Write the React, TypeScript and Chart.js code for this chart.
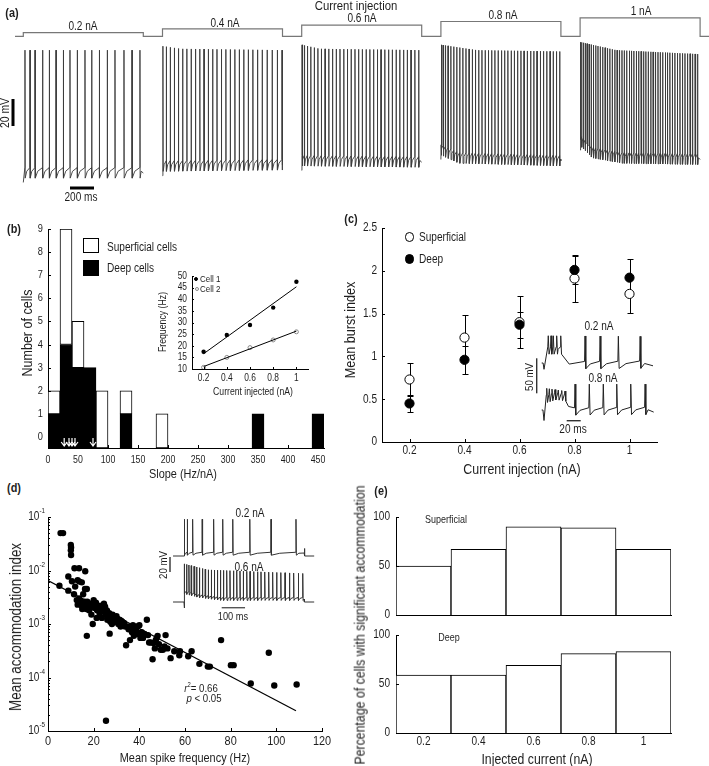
import React, { useEffect, useRef } from 'react';
import { Chart, registerables } from 'chart.js';

Chart.register(...registerables);

type Knot = [number, number];
type Pt = { x: number; y: number };
type Box = { x: number; y: number; w: number; h: number };
type Area = { l: number; t: number; r: number; b: number };

const FONT = '"Liberation Sans", Arial, Helvetica, sans-serif';
const INK = '#1e1e1e';
const NARROW = 0.84;

/* ============================ DATA ============================ */

/* (a) current steps and spike trains (ms after step onset) */
const STEP_CURRENTS_NA = [0.2, 0.4, 0.6, 0.8, 1];
const STEP_LABELS = ['0.2 nA', '0.4 nA', '0.6 nA', '0.8 nA', '1 nA'];
const STEP_MS = 1000;
const SWEEP_PERIOD_MS = 1160;
const SCALEBAR_A_MS = 200;
const SCALEBAR_A_MV = 20;

const SPIKES_A_02 = [14, 56, 98, 161, 217, 273, 334, 389, 450, 514, 570, 634, 700, 764, 839, 906, 972];
const SPIKES_A_04 = [4, 32, 65, 99, 133, 168, 203, 239, 275, 311, 346, 382, 418, 454, 491, 528, 565, 603, 640, 677, 715, 753, 792, 831, 872, 914, 957, 996];
const SPIKES_A_06 = [3, 23, 48, 76, 105, 135, 164, 195, 226, 257, 288, 319, 351, 381, 412, 444, 474, 505, 537, 568, 599, 631, 661, 692, 724, 755, 787, 817, 849, 880, 911, 943, 975];
const SPIKES_A_08 = [3, 18, 38, 60, 83, 107, 132, 157, 183, 209, 235, 262, 288, 315, 342, 369, 396, 423, 450, 477, 505, 531, 558, 586, 612, 639, 667, 693, 720, 748, 774, 801, 829, 855, 882, 910, 936, 963, 990];
const SPIKES_A_10 = [3, 13, 27, 42, 58, 75, 93, 111, 130, 149, 168, 188, 208, 228, 248, 268, 289, 308, 328, 349, 368, 388, 409, 428, 448, 469, 488, 508, 529, 548, 568, 589, 608, 628, 649, 668, 688, 709, 728, 748, 769, 790, 811, 832, 853, 874, 895, 916, 937, 958, 979];

const PEAK_A_02: Knot[] = [[0, 29], [1000, 29]];
const PEAK_A_04: Knot[] = [[0, 32], [150, 30], [1000, 29]];
const PEAK_A_06: Knot[] = [[0, 33], [150, 30], [1000, 29]];
const PEAK_A_08: Knot[] = [[0, 33], [300, 29], [1000, 28]];
const PEAK_A_10: Knot[] = [[0, 35], [300, 29], [1000, 26]];
const AHP_A_02: Knot[] = [[0, -64], [1000, -64]];
const AHP_A_04: Knot[] = [[0, -59], [1000, -58]];
const AHP_A_06: Knot[] = [[0, -55], [1000, -56]];
const AHP_A_08: Knot[] = [[0, -47], [150, -53], [1000, -55]];
const AHP_A_10: Knot[] = [[0, -40], [100, -49], [350, -53], [1000, -54]];

/* (b) slope histogram */
const SLOPE_BIN_WIDTH = 20;
const SLOPE_BIN_STARTS = [0, 20, 40, 60, 80, 100, 120, 140, 160, 180, 200, 220, 240, 260, 280, 300, 320, 340, 360, 380, 400, 420, 440];
const DEEP_CELLS = [1, 4, 3, 3, 0, 0, 1, 0, 0, 0, 0, 0, 0, 0, 0, 0, 0, 1, 0, 0, 0, 0, 1];
const SUPERFICIAL_CELLS = [1, 5, 2, 0, 2, 0, 1, 0, 0, 1, 0, 0, 0, 0, 0, 0, 0, 0, 0, 0, 0, 0, 0];
const SLOPE_TICKS = [0, 50, 100, 150, 200, 250, 300, 350, 400, 450];
const CELL_COUNT_TICKS = [0, 1, 2, 3, 4, 5, 6, 7, 8, 9];
const EXAMPLE_SLOPES = [27, 35, 40, 45, 75];

/* (b) inset */
const INSET_CURRENT_NA = [0.2, 0.4, 0.6, 0.8, 1];
const CELL1_HZ = [17.4, 24.6, 28.9, 36.4, 47.5];
const CELL2_HZ = [10.7, 15.0, 19.2, 22.5, 26.0];
const INSET_HZ_TICKS = [10, 15, 20, 25, 30, 35, 40, 45, 50];

/* (c) burst index */
const BURST_CURRENT_NA = [0.2, 0.4, 0.6, 0.8, 1];
const SUP_BURST = [0.73, 1.22, 1.4, 1.91, 1.73];
const SUP_BURST_ERR = [0.19, 0.26, 0.3, 0.28, 0.22];
const DEEP_BURST = [0.45, 0.96, 1.37, 2.01, 1.92];
const DEEP_BURST_ERR = [0.1, 0.16, 0.15, 0.16, 0.22];
const BURST_TICKS = [0, 0.5, 1, 1.5, 2, 2.5];
const CURRENT_TICKS = [0.2, 0.4, 0.6, 0.8, 1];

/* (c) inset traces (ms, mV) */
const CI_SPIKES_02 = [9.4, 13.3, 16.6, 21.4, 27.2, 61.9, 83.4, 109.5, 140.6];
const CI_PEAK_02: Knot[] = [[0, -26], [160, -27]];
const CI_AHP_02: Knot[] = [[0, -50], [28, -50], [34, -71], [160, -70]];
const CI_LEAD_02: Knot[] = [[0, -65], [2, -65], [3.3, -74]];
const CI_TAIL_02: Knot[] = [[159, -69]];
const CI_SPIKES_08 = [7.2, 10.9, 14.7, 19.0, 23.7, 28.6, 33.3, 47.6, 68.0, 88.0, 107.2, 127.2, 147.7];
const CI_PEAK_08: Knot[] = [[0, -33], [34, -38], [45, -28], [160, -28]];
const CI_AHP_08: Knot[] = [[0, -54], [20, -48], [34, -50], [40, -70], [160, -69]];
const CI_LEAD_08: Knot[] = [[0, -65], [1.8, -65], [3.3, -80]];
const CI_TAIL_08: Knot[] = [[160, -68]];
const CI_SCALE_MV = 50;
const CI_SCALE_MS = 20;

/* (d) accommodation vs frequency */
const ACC_FREQ_HZ = [5.5, 6.6, 10.0, 10.1, 10.0, 10.1, 11.6, 13.6, 16.3, 8.9, 10.5, 13.0, 13.8, 14.8, 11.9, 16.2, 17.0, 15.4, 5.0, 8.9, 11.4,
  12.6, 13.2, 13.6, 14.0, 14.3, 14.8, 15.2, 15.5, 15.9, 16.3, 16.8, 17.2, 17.6, 18.0, 18.6, 19.0, 19.6, 17.0, 20.0, 20.5, 21.0, 21.5, 22.0,
  22.6, 23.0, 23.6, 24.0, 24.5, 25.0, 25.3, 25.8, 26.2, 26.8, 27.0, 27.3, 27.8, 28.3, 28.8, 29.3, 29.8, 30.3, 30.8, 31.3, 31.8, 32.5, 33.3,
  34.2, 34.8, 35.3, 35.9, 36.3, 36.8, 37.2, 37.6, 38.2, 38.6, 39.0, 39.5, 40.0, 40.5, 41.0, 41.6, 42.2, 43.3, 43.8, 44.3, 45.0, 45.8, 46.2,
  46.8, 47.2, 47.6, 48.0, 48.6, 49.4, 50.3, 51.0, 51.5, 52.3, 53.7, 55.3, 57.5, 57.8, 61.4, 62.9, 66.3, 70.0, 70.9, 75.8, 80.1, 81.3, 88.8,
  96.7, 99.1, 108.9, 25.4, 13.0, 15.0, 16.0, 18.4, 19.4, 21.3, 23.4, 26.0, 28.0, 30.0, 32.0, 33.8];
const ACC_INDEX = [0.05, 0.05, 0.03, 0.027, 0.024, 0.0195, 0.011, 0.011, 0.0097, 0.0077, 0.0063, 0.0066, 0.0062, 0.006, 0.005, 0.0045, 0.0045, 0.0036, 0.0052, 0.0042, 0.0036,
  0.0028, 0.0026, 0.003, 0.0024, 0.0027, 0.0022, 0.0025, 0.002, 0.0023, 0.0021, 0.0019, 0.0026, 0.0022, 0.0018, 0.0024, 0.0015, 0.001, 0.0006, 0.0028, 0.002, 0.0025, 0.0018, 0.0022,
  0.0016, 0.0019, 0.0013, 0.0017, 0.0024, 0.0021, 0.0015, 0.0018, 0.0014, 0.0016, 0.00066, 0.0011, 0.0013, 0.0015, 0.0012, 0.0013, 0.0011, 0.00125, 0.001, 0.0012, 0.0009, 0.0011, 0.00105,
  0.0004, 0.0009, 0.0008, 0.0005, 0.00085, 0.0007, 0.00095, 0.0006, 0.0008, 0.00075, 0.0009, 0.00065, 0.00095, 0.00055, 0.0007, 0.00055, 0.00065, 0.0012, 0.00062, 0.00045, 0.00045, 0.00022, 0.00044,
  0.00035, 0.0005, 0.00055, 0.0006, 0.00042, 0.00033, 0.00033, 0.00038, 0.00062, 0.00035, 0.00023, 0.00031, 0.00026, 0.00031, 0.00025, 0.00031, 0.00018, 0.00016, 0.00016, 0.0005, 0.00017, 0.00017, 0.000077,
  0.00029, 0.000071, 0.000074, 0.0000155, 0.0023, 0.0019, 0.0026, 0.002, 0.0022, 0.0013, 0.0022, 0.0012, 0.001, 0.0014, 0.00115, 0.0009];
const ACC_FIT_HZ = [0, 108.6];
const ACC_FIT_INDEX = [0.0065, 0.000024];
const FREQ_TICKS = [0, 20, 40, 60, 80, 100, 120];
const ACC_DECADES = [1e-5, 1e-4, 1e-3, 1e-2, 1e-1];

/* (d) inset traces */
const DI_SPIKES_02 = [2, 14, 37, 78, 127, 166, 209, 282, 373, 480];
const DI_PEAK_02: Knot[] = [[0, -16], [515, -16]];
const DI_AHP_02: Knot[] = [[0, -63], [515, -63]];
const DI_LEAD_02: Knot[] = [[-47, -65], [0, -65]];
const DI_TAIL_02: Knot[] = [[515, -61], [516, -55], [518, -65], [558, -65]];
const DI_SPIKES_06 = [2, 11, 21, 31, 43, 54, 66, 79, 91, 104, 117, 130, 143, 156, 169, 183, 197, 212, 226, 240, 254, 269, 283, 299, 315, 330, 346, 363, 380, 397, 415, 433, 452, 470, 490, 509];
const DI_PEAK_06: Knot[] = [[0, -14], [100, -22], [515, -27]];
const DI_AHP_06: Knot[] = [[0, -53], [60, -58], [160, -62], [515, -62]];
const DI_LEAD_06: Knot[] = [[-47, -65], [0, -65], [0.8, -73]];
const DI_TAIL_06: Knot[] = [[515, -61], [516, -65], [558, -65]];
const DI_SCALE_MV = 20;
const DI_SCALE_MS = 100;

/* (e) percentage with significant accommodation */
const E_CURRENT_LABELS = ['0.2', '0.4', '0.6', '0.8', '1'];
const PCT_SUPERFICIAL = [50, 67, 90, 89, 67];
const PCT_DEEP = [59, 59, 69, 81, 83];
const PCT_TICKS = [0, 50, 100];

/* ============================ HELPERS ============================ */

function knotAt(k: Knot[], t: number): number {
  if (t <= k[0][0]) return k[0][1];
  for (let i = 1; i < k.length; i++) {
    if (t <= k[i][0]) {
      const [t0, v0] = k[i - 1];
      const [t1, v1] = k[i];
      return v0 + ((v1 - v0) * (t - t0)) / (t1 - t0);
    }
  }
  return k[k.length - 1][1];
}

interface TraceSpec { spikes: number[]; peak: Knot[]; ahp: Knot[]; ramp: number; hw: number; lead: Knot[]; tail: Knot[] }

function buildTrace(s: TraceSpec, shift = 0): Pt[] {
  const out: Pt[] = [];
  const add = (t: number, v: number) => out.push({ x: t + shift, y: v });
  s.lead.forEach(([t, v]) => add(t, v));
  const endT = s.tail.length ? s.tail[0][0] : s.spikes[s.spikes.length - 1] + 10;
  s.spikes.forEach((t, i) => {
    const a = knotAt(s.ahp, t);
    add(t - s.hw, a + s.ramp);
    add(t, knotAt(s.peak, t));
    add(t + 1.6 * s.hw, a - 0.3 * s.ramp);
    const nxt = i + 1 < s.spikes.length ? s.spikes[i + 1] : endT;
    if (nxt - t > 8 * s.hw) {
      const m = t + 0.35 * (nxt - t);
      add(m, knotAt(s.ahp, m) + 0.55 * s.ramp);
    }
  });
  s.tail.forEach(([t, v]) => add(t, v));
  return out;
}

function fitLine(xs: number[], ys: number[]): Pt[] {
  const n = xs.length;
  const mx = xs.reduce((a, b) => a + b, 0) / n;
  const my = ys.reduce((a, b) => a + b, 0) / n;
  let sxy = 0, sxx = 0;
  xs.forEach((x, i) => { sxy += (x - mx) * (ys[i] - my); sxx += (x - mx) * (x - mx); });
  const k = sxy / sxx;
  return [xs[0], xs[n - 1]].map((x) => ({ x, y: my + k * (x - mx) }));
}

const xLin = (l: number, r: number, refPx: number, refVal: number, ppu: number) => ({ min: refVal + (l - refPx) / ppu, max: refVal + (r - refPx) / ppu });
const yLin = (t: number, b: number, refPy: number, refVal: number, ppu: number) => ({ min: refVal - (b - refPy) / ppu, max: refVal + (refPy - t) / ppu });

function frame(box: Box, area: Area, yShown: boolean, xShown: boolean) {
  return {
    responsive: false,
    animation: false as const,
    devicePixelRatio: 1,
    events: [] as any[],
    layout: {
      padding: {
        left: yShown ? 0 : area.l - box.x,
        top: area.t - box.y,
        right: box.x + box.w - area.r,
        bottom: xShown ? 0 : box.y + box.h - area.b,
      },
    },
  };
}

function visAxis(o: { horizontal: boolean; fit: number; min?: number; max?: number; ticks?: number[]; type?: string; offset?: boolean }) {
  return {
    type: o.type ?? 'linear',
    min: o.min,
    max: o.max,
    offset: o.offset ?? false,
    grid: { display: false, drawTicks: false },
    border: { display: true, color: '#000', width: 1 },
    ticks: { display: false, autoSkip: false },
    afterBuildTicks: o.ticks ? (s: any) => { s.ticks = (o.ticks as number[]).map((v) => ({ value: v })); } : undefined,
    afterFit: (s: any) => { if (o.horizontal) s.height = o.fit; else s.width = o.fit; },
  };
}

const hidden = (r: { min: number; max: number }) => ({ type: 'linear', display: false, min: r.min, max: r.max });

/* ---------- plugins ---------- */
const scaleBarPlugin = {
  id: 'scaleBars',
  afterDatasetsDraw(chart: any, _a: any, o: any) {
    const ctx = chart.ctx;
    (o.bars || []).forEach((b: any) => {
      const s = chart.scales[b.scale];
      const len = Math.abs(s.getPixelForValue(b.value) - s.getPixelForValue(0));
      ctx.save();
      ctx.fillStyle = b.color || '#000';
      if (s.isHorizontal()) ctx.fillRect(b.x, b.y - b.w / 2, len, b.w);
      else ctx.fillRect(b.x - b.w / 2, b.y - len, b.w, len);
      ctx.restore();
    });
  },
};

const inTicksPlugin = {
  id: 'inTicks',
  afterDatasetsDraw(chart: any, _a: any, o: any) {
    const ctx = chart.ctx;
    const A = chart.chartArea;
    ctx.save();
    ctx.strokeStyle = '#000';
    ctx.lineWidth = 1;
    ctx.beginPath();
    (o.axes || []).forEach((id: string) => {
      const s = chart.scales[id];
      s.ticks.forEach((t: any) => {
        const p = Math.round(s.getPixelForValue(t.value)) + 0.5;
        if (s.isHorizontal()) { ctx.moveTo(p, A.bottom); ctx.lineTo(p, A.bottom - o.len); }
        else { ctx.moveTo(A.left, p); ctx.lineTo(A.left + o.len, p); }
      });
    });
    if (o.minorLog) {
      const s = chart.scales[o.minorLog];
      s.ticks.forEach((t: any) => {
        for (let k = 2; k <= 9; k++) {
          const v = t.value * k;
          if (v > s.max) continue;
          const p = Math.round(s.getPixelForValue(v)) + 0.5;
          ctx.moveTo(A.left, p);
          ctx.lineTo(A.left + 2, p);
        }
      });
    }
    ctx.stroke();
    ctx.restore();
  },
};

/* tick labels drawn with the figure's narrow lettering */
const tickTextPlugin = {
  id: 'tickText',
  afterDraw(chart: any, _a: any, o: any) {
    const ctx = chart.ctx;
    const A = chart.chartArea;
    (o.axes || []).forEach((ax: any) => {
      const s = chart.scales[ax.id];
      s.ticks.forEach((t: any, i: number) => {
        const p = s.getPixelForValue(t.value);
        ctx.save();
        ctx.fillStyle = INK;
        ctx.textBaseline = 'middle';
        if (s.isHorizontal()) { ctx.translate(p, A.bottom + ax.pad); ctx.textAlign = 'center'; }
        else { ctx.translate(A.left - ax.pad, p); ctx.textAlign = 'right'; }
        ctx.scale(ax.sx ?? NARROW, 1);
        if (ax.log) {
          const ex = String(Math.round(Math.log10(t.value)));
          ctx.font = `${ax.sup}px ${FONT}`;
          const ew = ctx.measureText(ex).width;
          ctx.fillText(ex, 0, -ax.size * 0.5);
          ctx.font = `${ax.size}px ${FONT}`;
          ctx.fillText('10', -ew, 0);
        } else {
          ctx.font = `${ax.size}px ${FONT}`;
          const txt = ax.labels ? ax.labels[i] : String(t.value);
          ctx.fillText(txt, 0, 0);
        }
        ctx.restore();
      });
    });
  },
};

const errorBarPlugin = {
  id: 'errorBars',
  beforeDatasetsDraw(chart: any) {
    const ctx = chart.ctx;
    const ys = chart.scales.y;
    chart.data.datasets.forEach((ds: any, i: number) => {
      if (!ds.errors) return;
      const meta = chart.getDatasetMeta(i);
      meta.data.forEach((el: any, j: number) => {
        const v = ds.data[j].y;
        const e = ds.errors[j];
        const top = Math.round(ys.getPixelForValue(v + e)) + 0.5;
        const bot = Math.round(ys.getPixelForValue(v - e)) + 0.5;
        const x = Math.round(el.x) + 0.5;
        ctx.save();
        ctx.strokeStyle = '#000';
        ctx.lineWidth = 1;
        ctx.beginPath();
        ctx.moveTo(x, top); ctx.lineTo(x, bot);
        ctx.moveTo(x - 3, top); ctx.lineTo(x + 3, top);
        ctx.moveTo(x - 3, bot); ctx.lineTo(x + 3, bot);
        ctx.stroke();
        ctx.restore();
      });
    });
  },
};

const arrowPlugin = {
  id: 'slopeArrows',
  afterDatasetsDraw(chart: any, _a: any, o: any) {
    const ctx = chart.ctx;
    const xs = chart.scales.x;
    const A = chart.chartArea;
    ctx.save();
    ctx.strokeStyle = '#fff';
    ctx.lineWidth = 1.2;
    (o.values || []).forEach((v: number) => {
      const x = xs.getPixelForValue(v);
      const yb = A.bottom - 2;
      const yt = A.bottom - 10;
      ctx.beginPath();
      ctx.moveTo(x, yt); ctx.lineTo(x, yb);
      ctx.moveTo(x - 3, yb - 4); ctx.lineTo(x, yb); ctx.lineTo(x + 3, yb - 4);
      ctx.stroke();
    });
    ctx.restore();
  },
};

const noLegend = { legend: { display: false }, tooltip: { enabled: false } };

/* ============================ CHART SPECS ============================ */

const BOX_A: Box = { x: 0, y: 0, w: 709, h: 200 };
const AREA_A: Area = { l: 0, t: 0, r: 709, b: 200 };
const BOX_B: Box = { x: 0, y: 212, w: 340, h: 262 };
const AREA_B: Area = { l: 48, t: 229, r: 324, b: 448 };
const BOX_BI: Box = { x: 140, y: 266, w: 185, h: 120 };
const AREA_BI: Area = { l: 192, t: 276, r: 308, b: 369 };
const BOX_C: Box = { x: 355, y: 212, w: 354, h: 250 };
const AREA_C: Area = { l: 382, t: 228, r: 657, b: 442 };
const BOX_CI: Box = { x: 525, y: 318, w: 135, h: 118 };
const AREA_CI: Area = { l: 525, t: 318, r: 660, b: 436 };
const BOX_D: Box = { x: 0, y: 505, w: 340, h: 250 };
const AREA_D: Area = { l: 48, t: 517, r: 322, b: 731 };
const BOX_DI: Box = { x: 160, y: 503, w: 160, h: 122 };
const AREA_DI: Area = { l: 160, t: 503, r: 320, b: 625 };
const BOX_E1: Box = { x: 365, y: 505, w: 344, h: 115 };
const AREA_E1: Area = { l: 396, t: 517, r: 671, b: 615 };
const BOX_E2: Box = { x: 365, y: 622, w: 344, h: 130 };
const AREA_E2: Area = { l: 396, t: 635, r: 671, b: 733 };

function makeA() {
  const specs: TraceSpec[] = [
    [SPIKES_A_02, PEAK_A_02, AHP_A_02],
    [SPIKES_A_04, PEAK_A_04, AHP_A_04],
    [SPIKES_A_06, PEAK_A_06, AHP_A_06],
    [SPIKES_A_08, PEAK_A_08, AHP_A_08],
    [SPIKES_A_10, PEAK_A_10, AHP_A_10],
  ].map(([sp, pk, ah]: any) => ({
    spikes: sp, peak: pk, ahp: ah, ramp: 6, hw: 1,
    lead: [[0, knotAt(ah, 0) - 5]] as Knot[],
    tail: [[STEP_MS, knotAt(ah, STEP_MS) + 2]] as Knot[],
  }));
  const xr = xLin(AREA_A.l, AREA_A.r, 23.3, 0, 0.12);
  const cur: Pt[] = [{ x: -69, y: 0 }];
  STEP_CURRENTS_NA.forEach((I, i) => {
    const s = i * SWEEP_PERIOD_MS;
    cur.push({ x: s, y: 0 }, { x: s, y: I }, { x: s + STEP_MS, y: I }, { x: s + STEP_MS, y: 0 });
  });
  cur.push({ x: xr.max, y: 0 });
  return {
    type: 'line',
    data: {
      datasets: [
        { data: cur, yAxisID: 'yI', borderColor: '#777', borderWidth: 1.2 },
        ...specs.map((sp, i) => ({ data: buildTrace(sp, i * SWEEP_PERIOD_MS), yAxisID: 'yV', borderColor: '#3a3a3a', borderWidth: 0.9 })),
      ],
    },
    options: {
      ...frame(BOX_A, AREA_A, false, false),
      elements: { point: { radius: 0 }, line: { tension: 0 } },
      scales: {
        x: hidden(xr),
        yV: hidden(yLin(AREA_A.t, AREA_A.b, 89.3, 0, 1.35)),
        yI: hidden(yLin(AREA_A.t, AREA_A.b, 36.3, 0, 18.5)),
      },
      plugins: {
        ...noLegend,
        scaleBars: {
          bars: [
            { scale: 'x', value: SCALEBAR_A_MS, x: 70, y: 188, w: 3 },
            { scale: 'yV', value: SCALEBAR_A_MV, x: 13, y: 126, w: 3 },
          ],
        },
      },
    },
    plugins: [scaleBarPlugin],
  };
}

function makeB() {
  const base = -0.48;
  const xmin = 0, xmax = 460;
  const binPx = ((AREA_B.r - AREA_B.l) / (xmax - xmin)) * SLOPE_BIN_WIDTH;
  const deep = SLOPE_BIN_STARTS.map((s, i) => ({ x: s + SLOPE_BIN_WIDTH / 2, y: DEEP_CELLS[i] ? [base, DEEP_CELLS[i]] : null }));
  const sup = SLOPE_BIN_STARTS.map((s, i) => ({
    x: s + SLOPE_BIN_WIDTH / 2,
    y: SUPERFICIAL_CELLS[i] ? [DEEP_CELLS[i] ? DEEP_CELLS[i] : base, DEEP_CELLS[i] + SUPERFICIAL_CELLS[i]] : null,
  }));
  const barStyle = { borderColor: '#000', borderWidth: 1, borderSkipped: false, grouped: false, barThickness: binPx, categoryPercentage: 1, barPercentage: 1 };
  return {
    type: 'bar',
    data: {
      datasets: [
        { data: sup, backgroundColor: '#fff', ...barStyle },
        { data: deep, backgroundColor: '#000', ...barStyle },
      ],
    },
    options: {
      ...frame(BOX_B, AREA_B, true, true),
      scales: {
        x: visAxis({ horizontal: true, fit: BOX_B.y + BOX_B.h - AREA_B.b, min: xmin, max: xmax, ticks: SLOPE_TICKS }),
        y: visAxis({ horizontal: false, fit: AREA_B.l - BOX_B.x, min: base, max: 9, ticks: CELL_COUNT_TICKS }),
      },
      plugins: {
        ...noLegend,
        slopeArrows: { values: EXAMPLE_SLOPES },
        inTicks: { axes: ['x', 'y'], len: 3 },
        tickText: { axes: [{ id: 'x', size: 11, pad: 11.5, sx: 0.8 }, { id: 'y', size: 11, pad: 5, sx: 0.84 }] },
      },
    },
    plugins: [arrowPlugin, inTicksPlugin, tickTextPlugin],
  };
}

function makeBI() {
  const p1 = INSET_CURRENT_NA.map((x, i) => ({ x, y: CELL1_HZ[i] }));
  const p2 = INSET_CURRENT_NA.map((x, i) => ({ x, y: CELL2_HZ[i] }));
  const line = { showLine: true, borderColor: '#000', borderWidth: 1, pointRadius: 0 };
  return {
    type: 'scatter',
    data: {
      datasets: [
        { data: fitLine(INSET_CURRENT_NA, CELL1_HZ), ...line },
        { data: fitLine(INSET_CURRENT_NA, CELL2_HZ), ...line },
        { data: p1, pointRadius: 2.2, backgroundColor: '#000', borderColor: '#000', borderWidth: 0 },
        { data: p2, pointRadius: 2, backgroundColor: '#fff', borderColor: '#888', borderWidth: 1 },
      ],
    },
    options: {
      ...frame(BOX_BI, AREA_BI, true, true),
      scales: {
        x: visAxis({ horizontal: true, fit: BOX_BI.y + BOX_BI.h - AREA_BI.b, min: 0.1, max: 1.1, ticks: CURRENT_TICKS }),
        y: visAxis({ horizontal: false, fit: AREA_BI.l - BOX_BI.x, min: 10, max: 50, ticks: INSET_HZ_TICKS }),
      },
      plugins: {
        ...noLegend,
        inTicks: { axes: ['x', 'y'], len: 2 },
        tickText: { axes: [{ id: 'x', size: 10, pad: 9 }, { id: 'y', size: 10, pad: 5 }] },
      },
    },
    plugins: [inTicksPlugin, tickTextPlugin],
  };
}

function makeC() {
  const sup = BURST_CURRENT_NA.map((x, i) => ({ x, y: SUP_BURST[i] }));
  const deep = BURST_CURRENT_NA.map((x, i) => ({ x, y: DEEP_BURST[i] }));
  return {
    type: 'scatter',
    data: {
      datasets: [
        { data: deep, errors: DEEP_BURST_ERR, pointRadius: 4.6, backgroundColor: '#000', borderColor: '#000', borderWidth: 1 },
        { data: sup, errors: SUP_BURST_ERR, pointRadius: 4.6, backgroundColor: '#fff', borderColor: '#000', borderWidth: 1 },
      ],
    },
    options: {
      ...frame(BOX_C, AREA_C, true, true),
      scales: {
        x: visAxis({ horizontal: true, fit: BOX_C.y + BOX_C.h - AREA_C.b, min: 0.1, max: 1.1, ticks: CURRENT_TICKS }),
        y: visAxis({ horizontal: false, fit: AREA_C.l - BOX_C.x, min: 0, max: 2.5, ticks: BURST_TICKS }),
      },
      plugins: {
        ...noLegend,
        inTicks: { axes: ['x', 'y'], len: 3 },
        tickText: { axes: [{ id: 'x', size: 12, pad: 9 }, { id: 'y', size: 12, pad: 5 }] },
      },
    },
    plugins: [errorBarPlugin, inTicksPlugin, tickTextPlugin],
  };
}

function makeCI() {
  const t02: TraceSpec = { spikes: CI_SPIKES_02, peak: CI_PEAK_02, ahp: CI_AHP_02, ramp: 8, hw: 0.7, lead: CI_LEAD_02, tail: CI_TAIL_02 };
  const t08: TraceSpec = { spikes: CI_SPIKES_08, peak: CI_PEAK_08, ahp: CI_AHP_08, ramp: 8, hw: 0.7, lead: CI_LEAD_08, tail: CI_TAIL_08 };
  return {
    type: 'line',
    data: {
      datasets: [
        { data: buildTrace(t02), yAxisID: 'yA', borderColor: '#222', borderWidth: 1 },
        { data: buildTrace(t08), yAxisID: 'yB', borderColor: '#222', borderWidth: 1 },
      ],
    },
    options: {
      ...frame(BOX_CI, AREA_CI, false, false),
      elements: { point: { radius: 0 }, line: { tension: 0 } },
      scales: {
        x: hidden(xLin(AREA_CI.l, AREA_CI.r, 541.7, 0, 0.7)),
        yA: hidden(yLin(AREA_CI.t, AREA_CI.b, 363, -65, 0.7)),
        yB: hidden(yLin(AREA_CI.t, AREA_CI.b, 410, -65, 0.7)),
      },
      plugins: {
        ...noLegend,
        scaleBars: {
          bars: [
            { scale: 'yA', value: CI_SCALE_MV, x: 11.7, y: 75.3, w: 1.4, color: '#333' },
            { scale: 'x', value: CI_SCALE_MS, x: 41.7, y: 102.7, w: 1.4, color: '#333' },
          ],
        },
      },
    },
    plugins: [scaleBarPlugin],
  };
}

function makeD() {
  const pts = ACC_FREQ_HZ.map((x, i) => ({ x, y: ACC_INDEX[i] }));
  const fit = ACC_FIT_HZ.map((x, i) => ({ x, y: ACC_FIT_INDEX[i] }));
  return {
    type: 'scatter',
    data: {
      datasets: [
        { data: fit, showLine: true, borderColor: '#000', borderWidth: 1.2, pointRadius: 0 },
        { data: pts, pointRadius: 3.2, backgroundColor: '#000', borderColor: '#000', borderWidth: 0 },
      ],
    },
    options: {
      ...frame(BOX_D, AREA_D, true, true),
      scales: {
        x: visAxis({ horizontal: true, fit: BOX_D.y + BOX_D.h - AREA_D.b, min: 0, max: 120, ticks: FREQ_TICKS }),
        y: { ...visAxis({ horizontal: false, fit: AREA_D.l - BOX_D.x, min: 1e-5, max: 1e-1, ticks: ACC_DECADES }), type: 'logarithmic' },
      },
      plugins: {
        ...noLegend,
        inTicks: { axes: ['x', 'y'], len: 3, minorLog: 'y' },
        tickText: { axes: [{ id: 'x', size: 13, pad: 10 }, { id: 'y', size: 12, sup: 7.5, pad: 3, log: true }] },
      },
    },
    plugins: [inTicksPlugin, tickTextPlugin],
  };
}

function makeDI() {
  const t02: TraceSpec = { spikes: DI_SPIKES_02, peak: DI_PEAK_02, ahp: DI_AHP_02, ramp: 3, hw: 1, lead: DI_LEAD_02, tail: DI_TAIL_02 };
  const t06: TraceSpec = { spikes: DI_SPIKES_06, peak: DI_PEAK_06, ahp: DI_AHP_06, ramp: 3, hw: 1, lead: DI_LEAD_06, tail: DI_TAIL_06 };
  return {
    type: 'line',
    data: {
      datasets: [
        { data: buildTrace(t02), yAxisID: 'yA', borderColor: '#333', borderWidth: 1 },
        { data: buildTrace(t06), yAxisID: 'yB', borderColor: '#333', borderWidth: 1 },
      ],
    },
    options: {
      ...frame(BOX_DI, AREA_DI, false, false),
      elements: { point: { radius: 0 }, line: { tension: 0 } },
      scales: {
        x: hidden(xLin(AREA_DI.l, AREA_DI.r, 184, 0, 0.2333)),
        yA: hidden(yLin(AREA_DI.t, AREA_DI.b, 556, -65, 0.75)),
        yB: hidden(yLin(AREA_DI.t, AREA_DI.b, 602, -65, 0.75)),
      },
      plugins: {
        ...noLegend,
        scaleBars: {
          bars: [
            { scale: 'yA', value: DI_SCALE_MV, x: 10, y: 69, w: 1.4, color: '#333' },
            { scale: 'x', value: DI_SCALE_MS, x: 61.7, y: 104.7, w: 1.4, color: '#555' },
          ],
        },
      },
    },
    plugins: [scaleBarPlugin],
  };
}

function makeE(values: number[], box: Box, area: Area, showLabels: boolean) {
  const axes: any[] = [{ id: 'y', size: 12, pad: 6 }];
  if (showLabels) axes.push({ id: 'x', size: 12, pad: 9, labels: E_CURRENT_LABELS });
  return {
    type: 'bar',
    data: {
      labels: E_CURRENT_LABELS,
      datasets: [{ data: values, backgroundColor: '#fff', borderColor: '#000', borderWidth: 1, borderSkipped: 'start', categoryPercentage: 1, barPercentage: 1 }],
    },
    options: {
      ...frame(box, area, true, true),
      scales: {
        x: visAxis({ type: 'category', offset: true, horizontal: true, fit: box.y + box.h - area.b }),
        y: visAxis({ horizontal: false, fit: area.l - box.x, min: 0, max: 100, ticks: PCT_TICKS }),
      },
      plugins: { ...noLegend, inTicks: { axes: ['y'], len: 3 }, tickText: { axes } },
    },
    plugins: [inTicksPlugin, tickTextPlugin],
  };
}

const SPECS: { key: string; box: Box; make: () => any }[] = [
  { key: 'a', box: BOX_A, make: makeA },
  { key: 'b', box: BOX_B, make: makeB },
  { key: 'bi', box: BOX_BI, make: makeBI },
  { key: 'c', box: BOX_C, make: makeC },
  { key: 'ci', box: BOX_CI, make: makeCI },
  { key: 'd', box: BOX_D, make: makeD },
  { key: 'di', box: BOX_DI, make: makeDI },
  { key: 'e1', box: BOX_E1, make: () => makeE(PCT_SUPERFICIAL, BOX_E1, AREA_E1, false) },
  { key: 'e2', box: BOX_E2, make: () => makeE(PCT_DEEP, BOX_E2, AREA_E2, true) },
];

/* ============================ TEXT ============================ */

function T(p: { x: number; y: number; s: number; children: React.ReactNode; rot?: number; b?: boolean; left?: boolean; sx?: number }) {
  const sx = p.sx ?? NARROW;
  return (
    <div
      style={{
        position: 'absolute',
        left: p.x,
        top: p.y,
        transform: `translate(${p.left ? '0' : '-50%'}, -50%) rotate(${p.rot ?? 0}deg) scaleX(${sx})`,
        transformOrigin: p.left ? '0 50%' : '50% 50%',
        fontSize: p.s,
        fontFamily: FONT,
        fontWeight: p.b ? 700 : 400,
        lineHeight: 1,
        whiteSpace: 'nowrap',
        color: INK,
      }}
    >
      {p.children}
    </div>
  );
}

function Dot(p: { x: number; y: number; d: number; fill: string; stroke: string }) {
  return (
    <div
      style={{
        position: 'absolute', left: p.x - p.d / 2, top: p.y - p.d / 2, width: p.d, height: p.d, boxSizing: 'border-box',
        borderRadius: '50%', background: p.fill, border: `1px solid ${p.stroke}`,
      }}
    />
  );
}

const STEP_LABEL_POS: [number, number][] = [[82.8, 26], [225, 22.7], [361.7, 18.3], [503, 15], [641.3, 10.7]];

export default function App() {
  const canvases = useRef<(HTMLCanvasElement | null)[]>([]);
  useEffect(() => {
    document.body.style.margin = '0';
    Chart.defaults.font.family = FONT;
    Chart.defaults.color = INK;
    const charts = SPECS.map((s, i) => new Chart(canvases.current[i] as HTMLCanvasElement, s.make()));
    return () => charts.forEach((c) => c.destroy());
  }, []);

  return (
    <div style={{ position: 'absolute', left: 0, top: 0, width: 709, height: 766, background: '#fff', overflow: 'hidden' }}>
      {SPECS.map((s, i) => (
        <canvas
          key={s.key}
          ref={(el) => { canvases.current[i] = el; }}
          width={s.box.w}
          height={s.box.h}
          style={{ position: 'absolute', left: s.box.x, top: s.box.y, width: s.box.w, height: s.box.h }}
        />
      ))}

      {/* (a) */}
      <T x={12} y={12} s={13} b>(a)</T>
      <T x={356} y={6} s={13.5}>Current injection</T>
      {STEP_LABELS.map((l, i) => (
        <T key={l} x={STEP_LABEL_POS[i][0]} y={STEP_LABEL_POS[i][1]} s={12}>{l}</T>
      ))}
      <T x={5} y={113} s={12.4} rot={-90}>20 mV</T>
      <T x={81} y={197} s={12}>200 ms</T>

      {/* (b) */}
      <T x={14} y={228} s={13} b>(b)</T>
      <T x={27} y={333} s={14.9} rot={-90}>Number of cells</T>
      <T x={183} y={473} s={13}>Slope (Hz/nA)</T>
      <div style={{ position: 'absolute', left: 83, top: 238, width: 16, height: 15, boxSizing: 'border-box', border: '1px solid #000', background: '#fff' }} />
      <div style={{ position: 'absolute', left: 83, top: 260, width: 16, height: 16, background: '#000' }} />
      <T x={106.7} y={246.7} s={12} left>Superficial cells</T>
      <T x={106.7} y={267.7} s={12} left>Deep cells</T>
      <T x={163} y={322} s={10.4} rot={-90}>Frequency (Hz)</T>
      <T x={253} y={392} s={10.3}>Current injected (nA)</T>
      <Dot x={196} y={279.3} d={4} fill="#000" stroke="#000" />
      <Dot x={196.5} y={289.3} d={4} fill="#fff" stroke="#888" />
      <T x={199.5} y={279.3} s={9.5} left>Cell 1</T>
      <T x={199.5} y={289.3} s={9.5} left>Cell 2</T>

      {/* (c) */}
      <T x={351} y={218} s={13} b>(c)</T>
      <T x={349} y={330} s={15} rot={-90}>Mean burst index</T>
      <T x={522} y={469} s={14.8}>Current injection (nA)</T>
      <Dot x={409.3} y={237} d={9.5} fill="#fff" stroke="#000" />
      <Dot x={409.3} y={259} d={9.5} fill="#000" stroke="#000" />
      <T x={419.3} y={236.7} s={12} left>Superficial</T>
      <T x={419.3} y={259} s={12} left>Deep</T>
      <T x={599.3} y={326} s={12}>0.2 nA</T>
      <T x={603.3} y={378} s={12}>0.8 nA</T>
      <T x={530} y={377} s={11.5} rot={-90}>50 mV</T>
      <T x={573.3} y={429} s={12}>20 ms</T>

      {/* (d) */}
      <T x={14} y={487} s={13} b>(d)</T>
      <T x={16} y={627} s={16} rot={-90}>Mean accommodation index</T>
      <T x={185} y={757} s={13}>Mean spike frequency (Hz)</T>
      <T x={201} y={688} s={11.5}><i>r</i><sup style={{ fontSize: 7 }}>2</sup>= 0.66</T>
      <T x={204} y={699} s={11.5}><i>p</i> &lt; 0.05</T>
      <T x={249.5} y={513} s={12}>0.2 nA</T>
      <T x={248.8} y={567} s={12}>0.6 nA</T>
      <T x={164} y={565} s={11.5} rot={-90}>20 mV</T>
      <T x={233.3} y={616} s={11}>100 ms</T>

      {/* (e) */}
      <T x={381} y={490} s={13} b>(e)</T>
      <T x={360} y={625} s={14.7} rot={-90}>Percentage of cells with significant accommodation</T>
      <T x={445.8} y={519} s={10.7}>Superficial</T>
      <T x={448.5} y={637} s={10.7}>Deep</T>
      <T x={536.7} y={759} s={14.6}>Injected current (nA)</T>
    </div>
  );
}
